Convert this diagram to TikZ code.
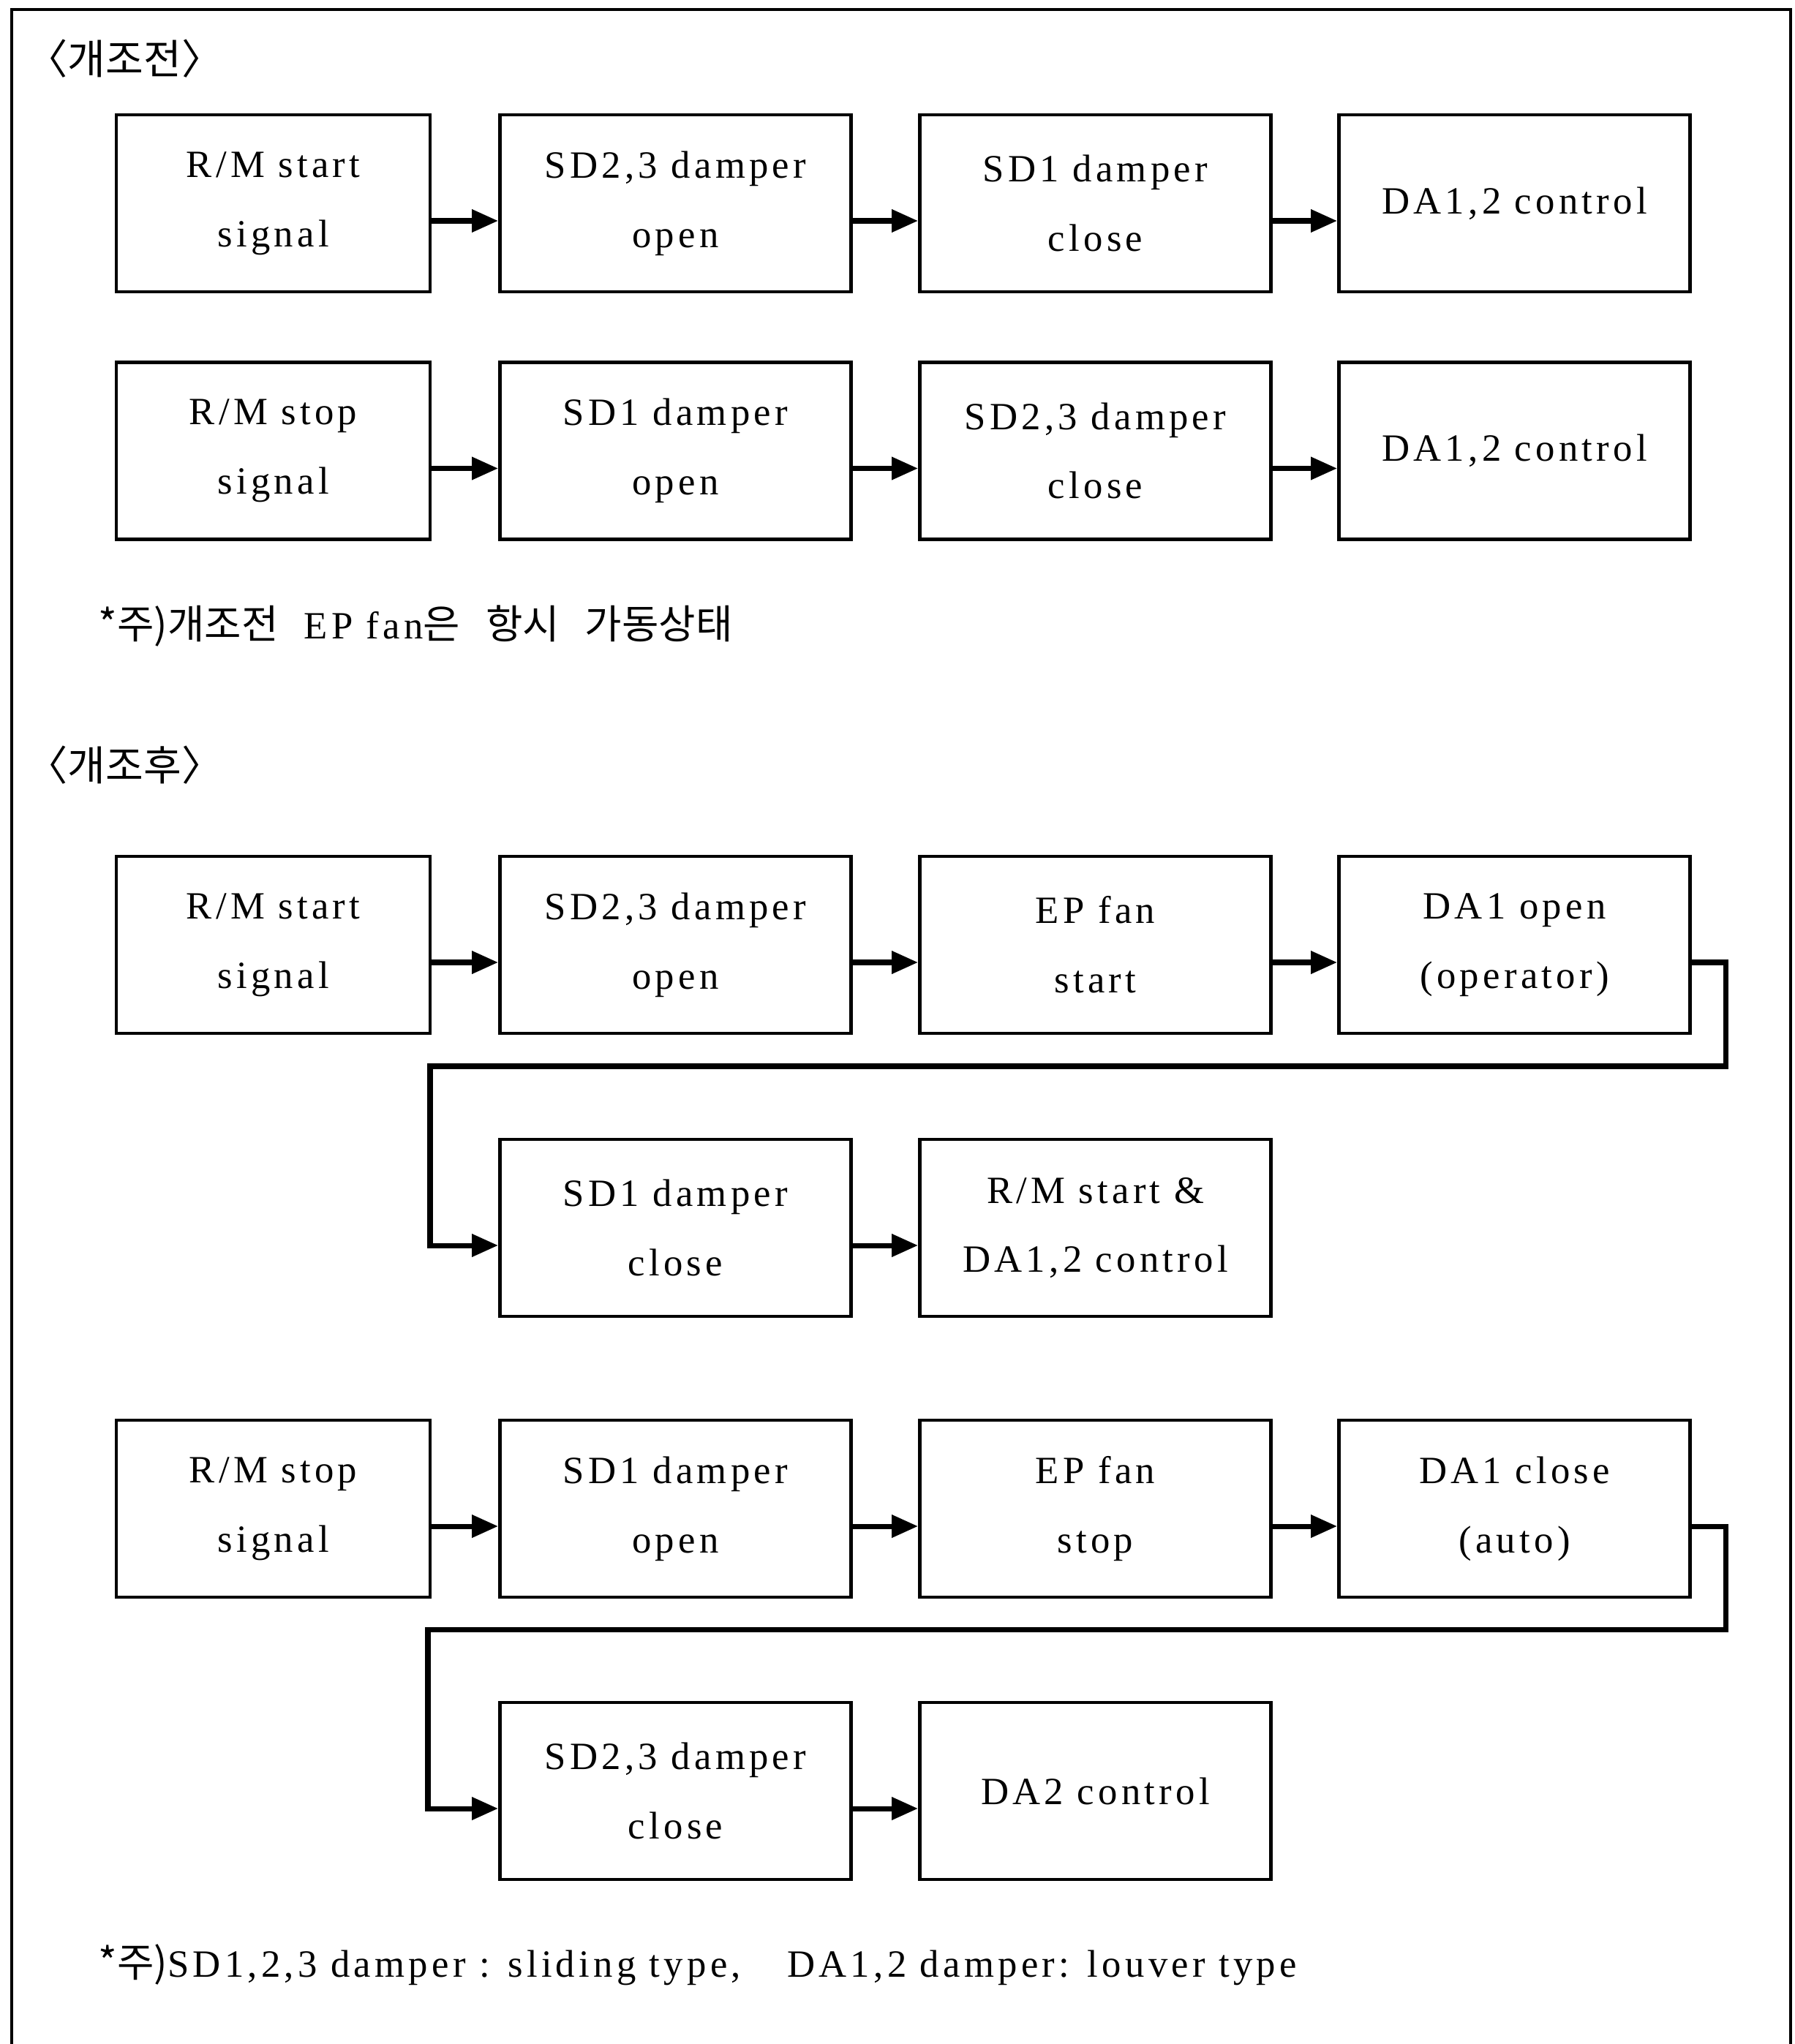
\documentclass[tikz,border=0pt]{standalone}
\usepackage{fontspec}
\setmainfont{Liberation Serif}[LetterSpace=10]
\newfontfamily\kr{Noto Sans CJK KR}
\usetikzlibrary{arrows.meta}

\tikzset{
  blk/.style={draw, line width=1.4pt, minimum width=4.8cm, minimum height=2.42cm,
    inner sep=0pt, align=center, font=\fontsize{15}{27}\selectfont},
  arr/.style={line width=2pt, -{Triangle[length=0.36cm,width=0.3cm]}},
  note/.style={anchor=west, inner sep=0pt, font=\fontsize{15}{17}\selectfont},
}
\newcommand{\hg}[1]{{\kr\fontsize{15.6}{17}\selectfont #1}}

\begin{document}
\begin{tikzpicture}
      \useasboundingbox (0,0) rectangle (24.53,-27.95);
      
      %테두리
      \draw[line width=1.2pt] (0.16,-27.95) -- (0.16,-0.13) -- (24.48,-0.13) -- (24.48,-27.95);
      
      %개조전
      \node[note] (hd1) at (0.36,-0.80) {{\kr\fontsize{16}{18}\selectfont 〈개조전〉}};
      
      \node[blk, minimum width=4.29cm] (r1a) at (3.735,-2.78) {R/M start\\signal};
      \node[blk] (r1b) at (9.235,-2.78) {SD2,3 damper\\open};
      \node[blk] (r1c) at (14.975,-2.78) {SD1 damper\\close};
      \node[blk] (r1d) at (20.705,-2.78) {DA1,2 control};
      
      \node[blk, minimum width=4.29cm] (r2a) at (3.735,-6.165) {R/M stop\\signal};
      \node[blk] (r2b) at (9.235,-6.165) {SD1 damper\\open};
      \node[blk] (r2c) at (14.975,-6.165) {SD2,3 damper\\close};
      \node[blk] (r2d) at (20.705,-6.165) {DA1,2 control};
      
      \node[note] (nt1) at (1.34,-8.56) {\hg{*주)개조전}\hspace{0.35cm}EP fan\hg{은}\hspace{0.35cm}\hg{항시}\hspace{0.35cm}\hg{가동상태}};
      
      %개조후
      \node[note] (hd2) at (0.36,-10.46) {{\kr\fontsize{16}{18}\selectfont 〈개조후〉}};
      
      \node[blk, minimum width=4.29cm] (r3a) at (3.735,-12.92) {R/M start\\signal};
      \node[blk] (r3b) at (9.235,-12.92) {SD2,3 damper\\open};
      \node[blk] (r3c) at (14.975,-12.92) {EP fan\\start};
      \node[blk] (r3d) at (20.705,-12.92) {DA1 open\\(operator)};
      
      \node[blk] (r4b) at (9.235,-16.79) {SD1 damper\\close};
      \node[blk] (r4c) at (14.975,-16.79) {R/M start \&\\DA1,2 control};
      
      \node[blk, minimum width=4.29cm] (r5a) at (3.735,-20.63) {R/M stop\\signal};
      \node[blk] (r5b) at (9.235,-20.63) {SD1 damper\\open};
      \node[blk] (r5c) at (14.975,-20.63) {EP fan\\stop};
      \node[blk] (r5d) at (20.705,-20.63) {DA1 close\\(auto)};
      
      \node[blk] (r6b) at (9.235,-24.49) {SD2,3 damper\\close};
      \node[blk] (r6c) at (14.975,-24.49) {DA2 control};
      
      \node[note] (nt2) at (1.34,-26.87) {\hg{*주)}SD1,2,3 damper : sliding type,\hspace{1.2em}DA1,2 damper: louver type};
      
      %화살표
      \foreach \a/\b in {r1a/r1b,r1b/r1c,r1c/r1d,r2a/r2b,r2b/r2c,r2c/r2d,
                         r3a/r3b,r3b/r3c,r3c/r3d,r4b/r4c,
                         r5a/r5b,r5b/r5c,r5c/r5d,r6b/r6c}  {
      	\draw[arr] ([yshift=-0.24cm]\a.east) -- ([yshift=-0.24cm]\b.west);
      }
      
      \coordinate (k1) at (23.59,-14.58);
      \coordinate (k2) at (5.88,-14.58);
      \draw[arr] ([yshift=-0.24cm]r3d.east) -| (k1) -- (k2) |- ([yshift=-0.24cm]r4b.west);
      
      \coordinate (k3) at (23.59,-22.28);
      \coordinate (k4) at (5.85,-22.28);
      \draw[arr] ([yshift=-0.24cm]r5d.east) -| (k3) -- (k4) |- ([yshift=-0.24cm]r6b.west);
      
\end{tikzpicture}
\end{document}
